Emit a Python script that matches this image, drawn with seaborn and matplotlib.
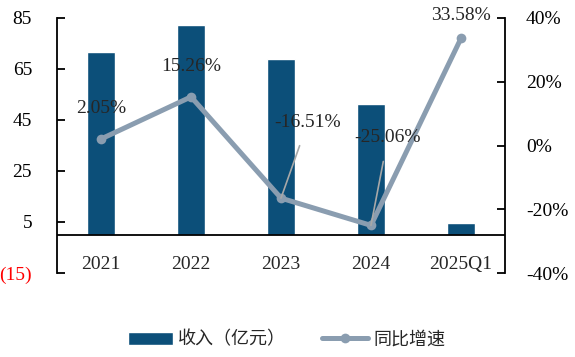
# 收入 + 同比增速, barres + ligne sur axe secondaire

import numpy as np
import pandas as pd
import matplotlib
matplotlib.use('Agg')
import matplotlib.pyplot as plt
import seaborn as sns

periods = ['2021', '2022', '2023', '2024', '2025Q1']
revenue = [71.8, 82.3, 68.9, 51.4, 4.6]          # 亿元
yoy = [2.05, 15.26, -16.51, -25.06, 33.58]       # %

left_ticks = [-15, 5, 25, 45, 65, 85]
right_ticks = [-40, -20, 0, 20, 40]

bar_color = '#0c4f79'
line_color = '#8a9db0'
fs = 14

sns.set_theme(style='white')
plt.rcParams['font.family'] = ['Liberation Serif', 'Noto Sans CJK SC']

df = pd.DataFrame({'period': periods, 'revenue': revenue, 'yoy': yoy})

fig = plt.figure(figsize=(5.75, 3.57), dpi=100)
ax = fig.add_axes([57 / 575, 1 - 273 / 357, (505 - 57) / 575, (273 - 18) / 357])

sns.barplot(data=df, x='period', y='revenue', color=bar_color, width=0.31,
            saturation=1, ax=ax, label='收入（亿元）')
ax.set_ylim(-15, 85)
ax.set_xlim(-0.49, len(periods) - 0.51)
ax.set_yticks(left_ticks)
ax.set_yticklabels([f'({abs(t)})' if t < 0 else str(t) for t in left_ticks])
ax.set_xlabel('')
ax.set_ylabel('')
ax.axhline(0, color='black', lw=1.3, zorder=1)

ax2 = ax.twinx()
sns.lineplot(x=np.arange(len(periods)), y=yoy, ax=ax2, color=line_color, lw=3.6,
             marker='o', markersize=7, markeredgewidth=0, label='同比增速', legend=False)
ax2.set_ylim(-40, 40)
ax2.set_yticks(right_ticks)
ax2.set_yticklabels([f'{t}%' for t in right_ticks])

for a in (ax, ax2):
    a.spines['top'].set_visible(False)
    a.tick_params(axis='y', direction='in', length=6, width=1.3, labelsize=fs, colors='black')
ax.spines['bottom'].set_position(('data', 0))
ax.spines['bottom'].set_visible(False)
ax2.spines['bottom'].set_visible(False)
ax.spines['left'].set_color('black')
ax.spines['left'].set_linewidth(1.3)
ax.spines['right'].set_visible(False)
ax2.spines['left'].set_visible(False)
ax2.spines['right'].set_color('black')
ax2.spines['right'].set_linewidth(1.3)
ax.tick_params(axis='y', pad=18)
ax2.tick_params(axis='y', pad=15)
for lab, t in zip(ax.get_yticklabels(), left_ticks):
    lab.set_color('red' if t < 0 else 'black')
ax.tick_params(axis='x', length=0, labelsize=fs, pad=15)

# étiquettes de croissance (offsets en pixels)
offsets = [(0, 30), (0, 30), (27, 76), (17, 88), (0, 23)]
for i, (v, off) in enumerate(zip(yoy, offsets)):
    kw = {}
    if off[0] != 0:
        kw['arrowprops'] = dict(arrowstyle='-', color='#a8a8a8', lw=1.2, shrinkA=9, shrinkB=0)
    ax2.annotate(f'{v:.2f}%', xy=(i, v), xytext=off, textcoords='offset pixels',
                 ha='center', va='center', fontsize=fs, zorder=5, **kw)

h1, l1 = ax.get_legend_handles_labels()
h2, l2 = ax2.get_legend_handles_labels()
ax.legend(h1 + h2, l1 + l2, loc='center', bbox_to_anchor=(0.498, 17 / 357),
          bbox_transform=fig.transFigure, ncol=2, frameon=False, fontsize=13,
          handlelength=2.5, columnspacing=2.0, handletextpad=0.3)

fig.savefig('out.png', dpi=100)
